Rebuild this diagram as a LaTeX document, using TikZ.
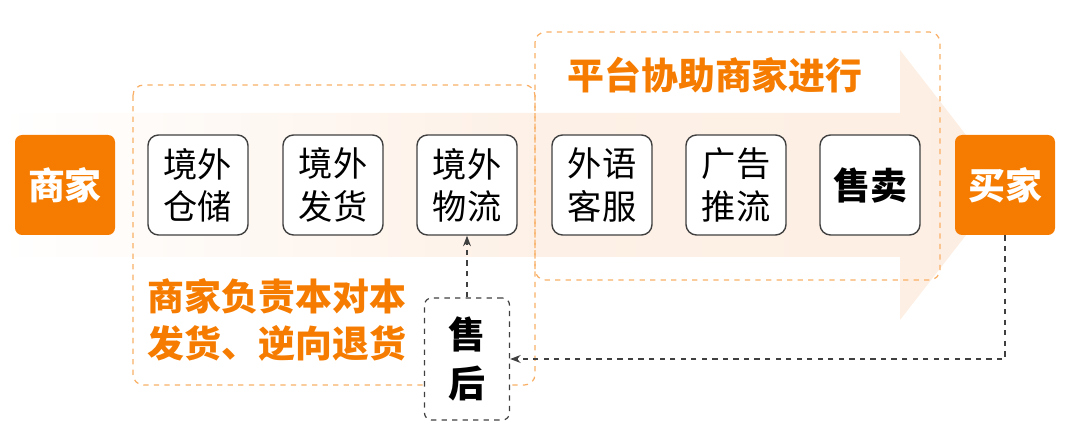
\documentclass[tikz,border=0pt]{standalone}
\usepackage{fontspec}
\newfontfamily\cjk{Noto Sans CJK SC}
\usetikzlibrary{arrows.meta}
\definecolor{org}{HTML}{F57C00}
\definecolor{pale}{HTML}{FDEEE2}
\begin{document}
\begin{tikzpicture}[x=0.02cm,y=-0.02cm,
  box/.style={draw=black!75,line width=0.8pt,rounded corners=6,fill=white,minimum width=100*0.02cm,minimum height=100*0.02cm,font=\cjk\fontsize{19.5}{24}\selectfont,align=center,inner sep=0},
  obox/.style={fill=org,rounded corners=4,minimum width=100*0.02cm,minimum height=100*0.02cm,font=\cjk\bfseries\fontsize{21}{24}\selectfont,text=white,inner sep=0},
  odash/.style={draw=org!60,dashed,line width=0.7pt,rounded corners=6},
  gdash/.style={draw=black!75,dashed,line width=0.7pt},
  lbl/.style={text=org,font=\cjk\bfseries\fontsize{21}{27}\selectfont,align=left}]
\useasboundingbox (0,0) rectangle (1080,435);
\shade[left color=white,right color=pale,middle color=pale!80] (0,113) -- (900,113) -- (900,50) -- (1005,185) -- (900,320) -- (900,257) -- (0,257) -- cycle;
\draw[odash] (133,85) rectangle (535,385);
\draw[odash] (535,32) rectangle (940,280);
\node[obox] (sj) at (65,185) {商家};
\node[obox] (mj) at (1005,185) {买家};
\node[box] (b1) at (198,185) {境外\\仓储};
\node[box] (b2) at (333,185) {境外\\发货};
\node[box] (b3) at (467,185) {境外\\物流};
\node[box] (b4) at (602,185) {外语\\客服};
\node[box] (b5) at (736,185) {广告\\推流};
\node[box,font=\cjk\bfseries\fontsize{21}{24}\selectfont] (b6) at (870,185) {售卖};
\node[draw=black!75,dashed,line width=0.7pt,rounded corners=4,fill=white,minimum width=85*0.02cm,minimum height=122*0.02cm,font=\cjk\bfseries\fontsize{21}{28}\selectfont,align=center,inner sep=0] (sh) at (467,359) {售\\后};
\node[lbl] (t1) at (715,75) {平台协助商家进行};
\node[lbl] (t2) at (277,320) {商家负责本对本\\发货、逆向退货};
\draw[gdash,-{Stealth[length=6pt]}] (sh.north) -- (b3.south);
\coordinate (c1) at (mj.south |- sh.east);
\draw[gdash,-{Stealth[length=6pt]}] (mj.south) -- (c1) -- (sh.east);
\end{tikzpicture}
\end{document}
